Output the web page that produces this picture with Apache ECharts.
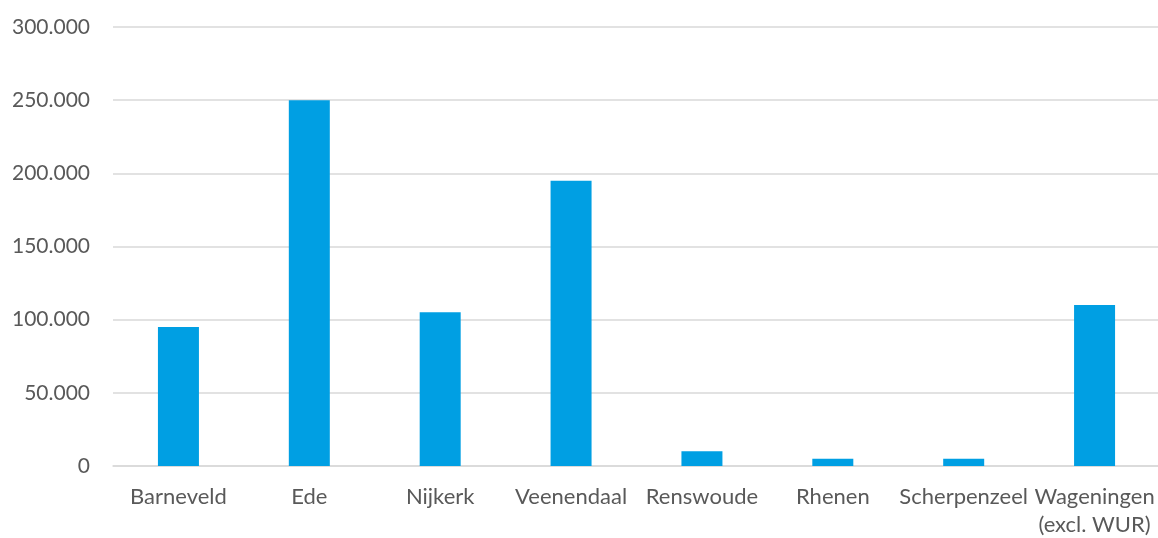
<!DOCTYPE html>
<html>
<head>
<meta charset="utf-8">
<script src="https://cdn.jsdelivr.net/npm/echarts@6/dist/echarts.min.js"></script>
<style>html,body{margin:0;padding:0;background:#fff}#c{width:1158px;height:538px}</style>
</head>
<body>
<div id="c"></div>
<script>
const categories = ['Barneveld', 'Ede', 'Nijkerk', 'Veenendaal', 'Renswoude', 'Rhenen', 'Scherpenzeel', 'Wageningen\n(excl. WUR)'];
const values = [95000, 250000, 105000, 195000, 10000, 5000, 5000, 110000];
const yMin = 0, yMax = 300000, yStep = 50000;

const chart = echarts.init(document.getElementById('c'));
const fmt = v => v === 0 ? '0' : String(v).replace(/\B(?=(\d{3})+(?!\d))/g, '.');
chart.setOption({
  animation: false,
  grid: { left: 113, top: 27, width: 1047, bottom: 72, containLabel: false, outerBoundsMode: 'none' },
  xAxis: {
    type: 'category',
    data: categories,
    axisLine: { show: true, lineStyle: { color: '#d9d9d9', width: 1.5 } },
    axisTick: { show: false },
    axisLabel: { color: '#595959', fontFamily: 'Lato', fontSize: 22, margin: 17, lineHeight: 28, interval: 0 }
  },
  yAxis: {
    type: 'value',
    min: yMin, max: yMax, interval: yStep,
    axisLine: { show: false },
    axisTick: { show: false },
    splitLine: { lineStyle: { color: '#d9d9d9', width: 1.5 } },
    axisLabel: { color: '#595959', fontFamily: 'Lato', fontSize: 21, margin: 23, formatter: fmt }
  },
  series: [{
    type: 'bar',
    data: values,
    barWidth: 41,
    itemStyle: { color: '#009fe3' }
  }]
});
</script>
</body>
</html>
